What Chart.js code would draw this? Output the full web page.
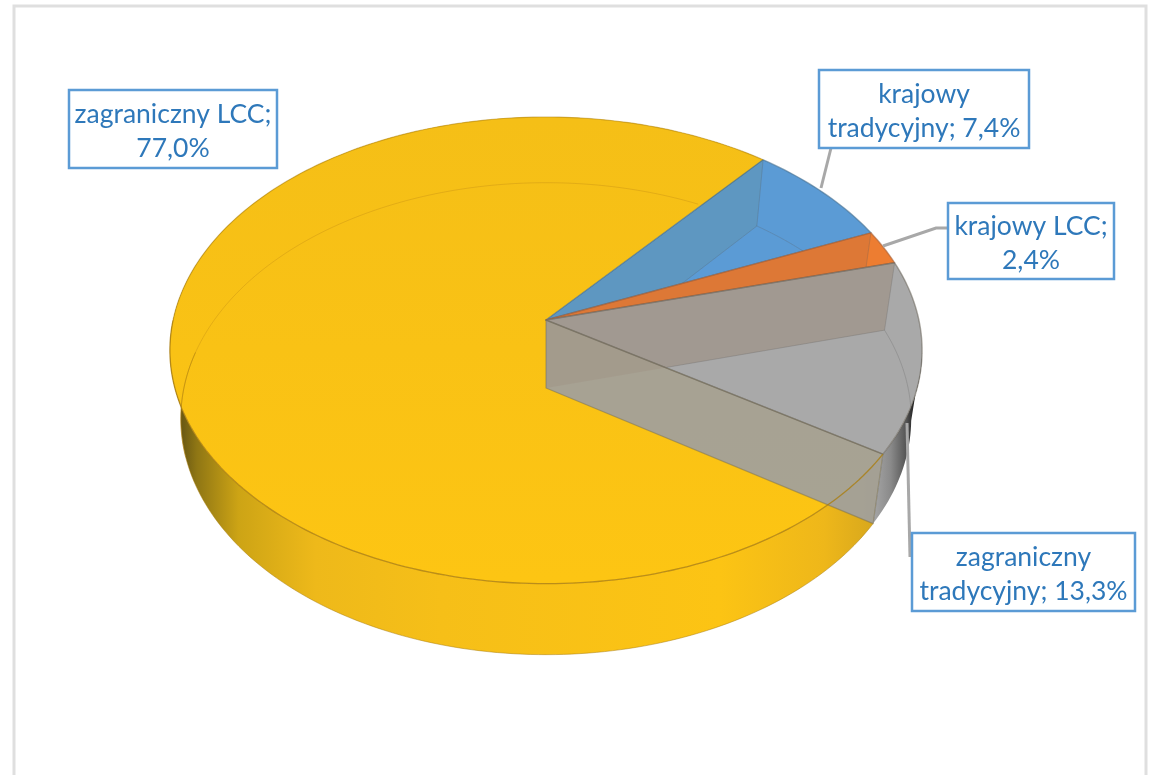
<!DOCTYPE html>
<html lang="pl">
<head>
<meta charset="utf-8">
<title>Wykres kołowy</title>
<style>
  html, body { margin: 0; padding: 0; background: #fff; overflow: hidden; }
  canvas { display: block; }
</style>
</head>
<body>
<canvas id="pieChart" width="1151" height="775"></canvas>
<script src="https://cdn.jsdelivr.net/npm/chart.js@4/dist/chart.umd.min.js"></script>
<script>
// data
const categories = ['zagraniczny LCC', 'krajowy tradycyjny', 'krajowy LCC', 'zagraniczny tradycyjny'];
const shares = [77.0, 7.4, 2.4, 13.3];
// how many words stay on the first line of each label
const labelBreaks = [2, 1, 2, 1];

const sliceColors = ['#fbc114', '#5b9bd5', '#ed7d31', '#a9a9a9'];
const wallTints = [null, 'rgba(100,145,155,0.34)', 'rgba(205,115,60,0.5)', 'rgba(155,140,125,0.55)'];
const edgeColors = [null, 'rgba(70,110,140,0.6)', 'rgba(165,95,55,0.6)', 'rgba(105,100,90,0.55)'];

// callout boxes: x, y, w, h and the leader line that runs to the slice
const callouts = [
    { box: [69, 90, 208, 78], leader: [] },
    { box: [819, 70, 210, 78], leader: [[831, 148], [821, 188]] },
    { box: [948, 203, 166, 76], leader: [[948, 228], [936, 228], [883, 246]] },
    { box: [912, 533, 223, 78], leader: [[907, 423], [910, 557]] }
];

// perspective of the disc, as factors of the library's outer radius
const persp = 0.13;
const topFace = { rx: 1.243, ry: 0.7647, dy: 0 };
const bottomFace = { rx: 1.207, ry: 0.7733, dy: 68 };

function rimPoint(arc, angle, face) {
    const r = arc.outerRadius;
    const w = 1 - persp * Math.sin(angle);
    return {
        x: arc.x + r * face.rx * Math.cos(angle) / w,
        y: arc.y + face.dy + r * face.ry * Math.sin(angle) / w
    };
}

function traceRim(ctx, arc, from, to, face, join) {
    const steps = Math.max(2, Math.ceil(Math.abs(to - from) / 0.02));
    for (let i = 0; i <= steps; i++) {
        const p = rimPoint(arc, from + (to - from) * i / steps, face);
        if (i === 0 && !join) ctx.moveTo(p.x, p.y);
        else ctx.lineTo(p.x, p.y);
    }
}

function wedgePath(ctx, arc, face) {
    ctx.beginPath();
    ctx.moveTo(arc.x, arc.y + face.dy);
    traceRim(ctx, arc, arc.startAngle, arc.endAngle, face, true);
    ctx.closePath();
}

function sidePath(ctx, arc, from, to) {
    ctx.beginPath();
    traceRim(ctx, arc, from, to, topFace, false);
    traceRim(ctx, arc, to, from, bottomFace, true);
    ctx.closePath();
}

// flat cut wall at one edge of a slice
function cutPath(ctx, arc, angle) {
    const a = rimPoint(arc, angle, topFace);
    const b = rimPoint(arc, angle, bottomFace);
    ctx.beginPath();
    ctx.moveTo(arc.x, arc.y);
    ctx.lineTo(a.x, a.y);
    ctx.lineTo(b.x, b.y);
    ctx.lineTo(arc.x, arc.y + bottomFace.dy);
    ctx.closePath();
}

function sideGradient(ctx, x0, x1, stops) {
    const g = ctx.createLinearGradient(x0, 0, x1, 0);
    stops.forEach(s => g.addColorStop(s[0], s[1]));
    return g;
}

const pie3d = {
    id: 'pie3d',
    beforeDatasetsDraw(chart) {
        const ctx = chart.ctx;
        const arcs = chart.getDatasetMeta(0).data;
        const yellow = arcs[0];
        ctx.save();
        ctx.lineJoin = 'round';

        // outer walls
        const y0 = rimPoint(yellow, Math.PI, bottomFace).x - 8;
        const y1 = rimPoint(yellow, yellow.startAngle, bottomFace).x;
        sidePath(ctx, yellow, yellow.startAngle, yellow.endAngle);
        ctx.fillStyle = sideGradient(ctx, y0, y1, [
            [0, '#5c4d12'], [0.03, '#8f7614'], [0.09, '#cda415'], [0.2, '#eeb91a'],
            [0.38, '#f6bf18'], [0.78, '#fcc414'], [0.93, '#eeb71a'], [1, '#d8a81d']
        ]);
        ctx.fill();

        const gray = arcs[3];
        const g0 = rimPoint(gray, gray.endAngle, bottomFace).x;
        sidePath(ctx, gray, gray.startAngle + 0.4, gray.endAngle);
        ctx.fillStyle = sideGradient(ctx, g0, g0 + 44, [
            [0, '#a6a6a6'], [0.4, '#8a8a8a'], [0.75, '#555'], [1, '#0c0c0c']
        ]);
        ctx.fill();

        // main slice, seen as a solid top
        const top = chart.chartArea.top;
        const faceFill = ctx.createLinearGradient(0, top + 100, 0, top + 560);
        faceFill.addColorStop(0, '#f5bf17');
        faceFill.addColorStop(1, '#fdc513');
        wedgePath(ctx, yellow, topFace);
        ctx.fillStyle = faceFill;
        ctx.fill();

        // far rim shows faintly through it
        ctx.beginPath();
        traceRim(ctx, yellow, 2.85, 5.2, bottomFace, false);
        ctx.strokeStyle = 'rgba(190,135,20,0.35)';
        ctx.lineWidth = 1;
        ctx.stroke();

        // glassy slices
        arcs.forEach((arc, i) => {
            if (i === 0) return;
            // front cut wall only where it faces the viewer
            if (Math.sin(arc.endAngle) > 0) {
                cutPath(ctx, arc, arc.endAngle);
                ctx.fillStyle = 'rgba(160,160,158,0.92)';
                ctx.fill();
            }
            wedgePath(ctx, arc, topFace);
            ctx.fillStyle = arc.options.backgroundColor;
            ctx.fill();

            ctx.save();
            wedgePath(ctx, arc, topFace);
            ctx.clip();
            cutPath(ctx, arc, arc.startAngle);
            ctx.fillStyle = wallTints[i];
            ctx.fill();
            ctx.strokeStyle = 'rgba(90,90,90,0.25)';
            ctx.lineWidth = 1;
            ctx.stroke();
            ctx.beginPath();
            traceRim(ctx, arc, arc.startAngle, arc.endAngle, bottomFace, false);
            ctx.stroke();
            ctx.restore();

            if (Math.sin(arc.endAngle) > 0) {
                // back wall seen through the front one
                ctx.save();
                cutPath(ctx, arc, arc.endAngle);
                ctx.clip();
                cutPath(ctx, arc, arc.startAngle);
                ctx.fillStyle = 'rgba(155,140,125,0.3)';
                ctx.fill();
                ctx.restore();
                cutPath(ctx, arc, arc.endAngle);
                ctx.strokeStyle = 'rgba(115,110,90,0.5)';
                ctx.lineWidth = 1.2;
                ctx.stroke();
            }
            wedgePath(ctx, arc, topFace);
            ctx.strokeStyle = edgeColors[i];
            ctx.lineWidth = 1.4;
            ctx.stroke();
        });

        // rim of the main slice: faint at the back, firm at the front, on top of the glass
        ctx.beginPath();
        traceRim(ctx, yellow, Math.PI, yellow.endAngle, topFace, false);
        ctx.strokeStyle = 'rgba(170,125,15,0.5)';
        ctx.lineWidth = 1.2;
        ctx.stroke();
        ctx.beginPath();
        traceRim(ctx, yellow, yellow.startAngle, Math.PI, topFace, false);
        ctx.strokeStyle = 'rgba(170,125,15,0.8)';
        ctx.lineWidth = 1.3;
        ctx.stroke();
        ctx.beginPath();
        traceRim(ctx, yellow, yellow.startAngle, Math.PI * 1.05, bottomFace, false);
        ctx.strokeStyle = 'rgba(170,125,15,0.5)';
        ctx.lineWidth = 1;
        ctx.stroke();

        ctx.restore();
        return false;
    },
    afterDraw(chart) {
        const ctx = chart.ctx;
        ctx.save();

        // frame of the chart area, open at the bottom of the picture
        ctx.strokeStyle = '#dfdfdf';
        ctx.lineWidth = 3;
        ctx.strokeRect(14, 6, 1132, 790);

        callouts.forEach((c, i) => {
            if (c.leader.length) {
                ctx.beginPath();
                c.leader.forEach((p, k) => k ? ctx.lineTo(p[0], p[1]) : ctx.moveTo(p[0], p[1]));
                ctx.strokeStyle = '#a8a8a8';
                ctx.lineWidth = 3;
                ctx.stroke();
            }
            const [x, y, w, h] = c.box;
            ctx.fillStyle = '#fff';
            ctx.fillRect(x, y, w, h);
            ctx.strokeStyle = '#5b9bd5';
            ctx.lineWidth = 2.5;
            ctx.strokeRect(x, y, w, h);

            const text = categories[i] + '; ' + shares[i].toFixed(1).replace('.', ',') + '%';
            const words = text.split(' ');
            const lines = [words.slice(0, labelBreaks[i]).join(' '), words.slice(labelBreaks[i]).join(' ')];
            ctx.fillStyle = '#2e78ba';
            ctx.font = '26.5px Lato';
            ctx.textAlign = 'center';
            ctx.textBaseline = 'middle';
            ctx.fillText(lines[0], x + w / 2, y + h / 2 - 15);
            ctx.fillText(lines[1], x + w / 2, y + h / 2 + 19);
        });
        ctx.restore();
    }
};

new Chart(document.getElementById('pieChart'), {
    type: 'pie',
    data: {
        labels: categories,
        datasets: [{
            data: shares,
            backgroundColor: sliceColors,
            borderWidth: 0
        }]
    },
    options: {
        responsive: false,
        animation: false,
        rotation: 122.9,
        layout: { padding: { left: 246, right: 305, top: 20, bottom: 155 } },
        plugins: { legend: { display: false }, tooltip: { enabled: false } }
    },
    plugins: [pie3d]
});
</script>
</body>
</html>
